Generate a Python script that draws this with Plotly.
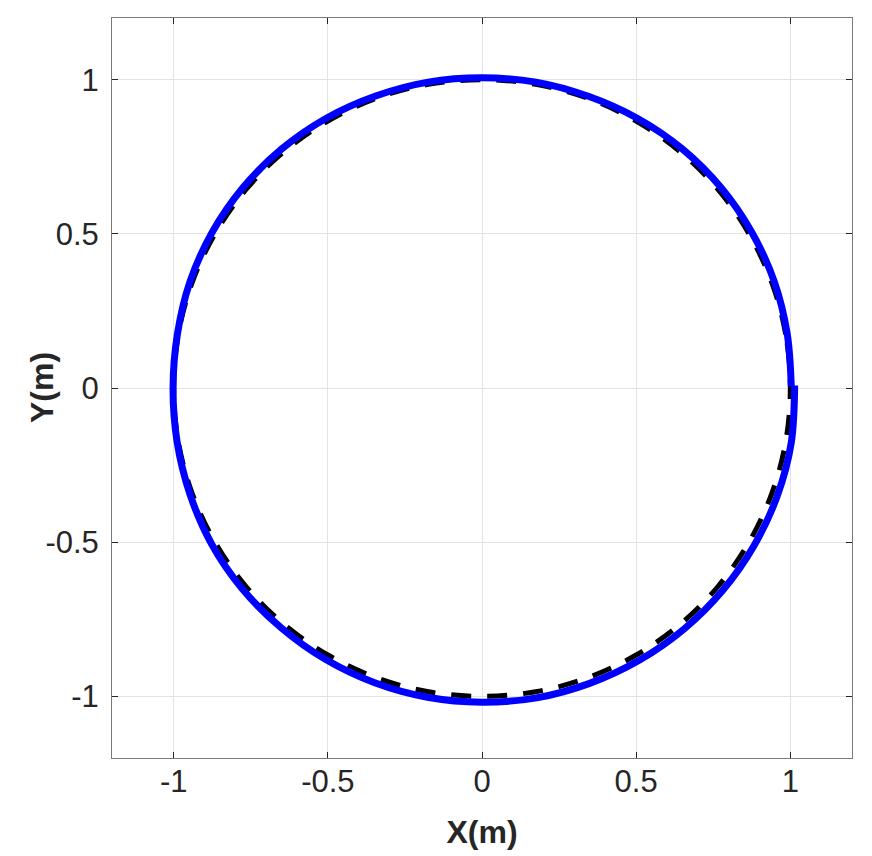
import plotly.graph_objects as go

# reference path (dashed black), sampled every 10 degrees
ref_x = [1.000, 0.985, 0.940, 0.866, 0.766, 0.643, 0.500, 0.342, 0.174, 0.000,
         -0.174, -0.342, -0.500, -0.643, -0.766, -0.866, -0.940, -0.985, -1.000,
         -0.985, -0.940, -0.866, -0.766, -0.643, -0.500, -0.342, -0.174, 0.000,
         0.174, 0.342, 0.500, 0.643, 0.766, 0.866, 0.940, 0.985, 1.000]
ref_y = [0.000, 0.174, 0.342, 0.500, 0.643, 0.766, 0.866, 0.940, 0.985, 1.000,
         0.985, 0.940, 0.866, 0.766, 0.643, 0.500, 0.342, 0.174, 0.000,
         -0.174, -0.342, -0.500, -0.643, -0.766, -0.866, -0.940, -0.985, -1.000,
         -0.985, -0.940, -0.866, -0.766, -0.643, -0.500, -0.342, -0.174, 0.000]

# actual trajectory (solid blue)
traj_x = [1.003, 0.990, 0.948, 0.875, 0.775, 0.650, 0.505, 0.345, 0.175, 0.000,
          -0.175, -0.345, -0.505, -0.650, -0.775, -0.875, -0.947, -0.988, -1.002,
          -0.989, -0.947, -0.877, -0.777, -0.652, -0.508, -0.348, -0.177, 0.000,
          0.177, 0.349, 0.510, 0.656, 0.781, 0.883, 0.958, 1.003, 1.014]
traj_y = [0.005, 0.175, 0.345, 0.505, 0.650, 0.775, 0.874, 0.946, 0.992, 1.006,
          0.992, 0.947, 0.875, 0.775, 0.650, 0.505, 0.345, 0.174, 0.000,
          -0.174, -0.345, -0.506, -0.652, -0.777, -0.880, -0.956, -1.003, -1.019,
          -1.005, -0.958, -0.883, -0.781, -0.656, -0.510, -0.349, -0.177, 0.008]

tick_vals = [-1, -0.5, 0, 0.5, 1]
tick_text = ['-1', '-0.5', '0', '0.5', '1']

fig = go.Figure()

fig.add_trace(go.Scatter(
    x=ref_x, y=ref_y,
    mode='lines',
    line=dict(color='black', width=5, dash='20px,16px', shape='spline', smoothing=1.0),
    showlegend=False
))

fig.add_trace(go.Scatter(
    x=traj_x, y=traj_y,
    mode='lines',
    line=dict(color='#0000ff', width=7, shape='spline', smoothing=1.0),
    showlegend=False
))

font_family = 'Liberation Sans, Arial'

axis_style = dict(
    range=[-1.2, 1.2],
    tickvals=tick_vals,
    ticktext=tick_text,
    ticks='inside',
    ticklen=6,
    tickcolor='#262626',
    tickfont=dict(family=font_family, size=31, color='#262626'),
    showgrid=True,
    gridcolor='#e3e3e3',
    gridwidth=1,
    zeroline=False,
    showline=True,
    linecolor='#7a7a7a',
    linewidth=1,
    mirror='ticks',
    automargin=False,
)

fig.update_xaxes(
    **axis_style,
    title=dict(text='<b>X(m)</b>', font=dict(family=font_family, size=32, color='#262626'),
               standoff=22),
    ticklabelstandoff=-4,
)
fig.update_yaxes(**axis_style, ticklabelstandoff=6)

# y title as a rotated annotation so it sits where the reference has it
fig.add_annotation(
    text='<b>Y(m)</b>',
    xref='paper', yref='paper',
    x=-70 / 740, y=0.5,
    xanchor='center', yanchor='middle',
    textangle=-90,
    showarrow=False,
    font=dict(family=font_family, size=32, color='#262626'),
)

# page body adds an 8px offset, margins compensate
fig.update_layout(
    width=872,
    height=856,
    margin=dict(l=104, r=28, t=10, b=106),
    plot_bgcolor='white',
    paper_bgcolor='white',
)

fig.write_html("out.html")
